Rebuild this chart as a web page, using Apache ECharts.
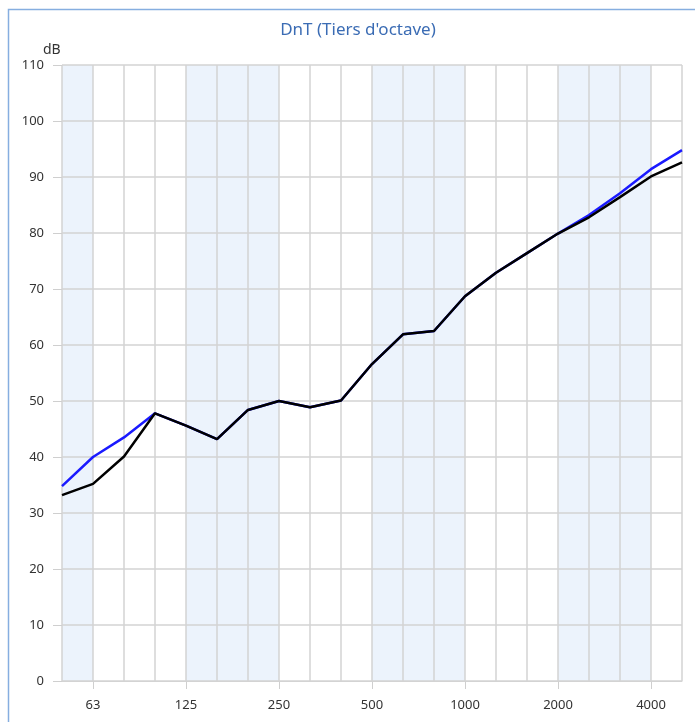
<!DOCTYPE html>
<html>
<head>
<meta charset="utf-8">
<script src="https://cdn.jsdelivr.net/npm/echarts@6/dist/echarts.min.js"></script>
<style>
  html, body { margin: 0; padding: 0; background: #ffffff; }
  #chart { width: 695px; height: 722px; }
</style>
</head>
<body>
<div id="chart"></div>
<script>
// Third-octave band centre frequencies (Hz)
const bands = ['50', '63', '80', '100', '125', '160', '200', '250', '315', '400', '500',
  '630', '800', '1000', '1250', '1600', '2000', '2500', '3150', '4000', '5000'];
// Bands that carry a label and a tick on the frequency axis
const labelledBands = ['63', '125', '250', '500', '1000', '2000', '4000'];
// Octave groups shaded in the background
const shadedOctaves = [['50', '63'], ['125', '250'], ['500', '1000'], ['2000', '4000']];

// DnT values (dB)
const dntBlue = [34.8, 40.0, 43.5, 47.8, 45.6, 43.2, 48.4, 50.0, 48.9, 50.1, 56.6,
  61.9, 62.5, 68.7, 72.9, 76.4, 79.9, 83.2, 87.1, 91.4, 94.8];
const dntBlack = [33.2, 35.2, 40.1, 47.8, 45.6, 43.2, 48.4, 50.0, 48.9, 50.1, 56.6,
  61.9, 62.5, 68.7, 72.9, 76.4, 79.9, 82.8, 86.4, 90.1, 92.6];

const yTicks = { min: 0, max: 110, interval: 10 };

const SHADE = '#ecf3fc';
const PLAIN = '#ffffff';

// One background colour per interval between neighbouring bands
const intervalColors = bands.slice(0, -1).map((_, i) => {
  const inside = shadedOctaves.some(([a, b]) =>
    i >= bands.indexOf(a) && i + 1 <= bands.indexOf(b));
  return inside ? SHADE : PLAIN;
});

const chart = echarts.init(document.getElementById('chart'), null, { renderer: 'canvas' });
const font = 'Noto Sans';
const showLabel = (i) => labelledBands.indexOf(bands[i]) >= 0;

chart.setOption({
  animation: false,
  backgroundColor: '#ffffff',
  textStyle: { fontFamily: font },
  title: {
    text: "DnT (Tiers d'octave)",
    left: 353,
    textAlign: 'center',
    top: 17,
    textStyle: { color: '#3b6cb4', fontSize: 17, fontWeight: 'normal', fontFamily: font }
  },
  graphic: [
    {
      type: 'rect',
      shape: { x: 8.5, y: 9.5, width: 720, height: 730 },
      style: { fill: 'none', stroke: '#86aee0', lineWidth: 1.5 },
      silent: true
    },
    {
      type: 'text',
      left: 43,
      top: 43,
      style: { text: 'dB', fill: '#333333', fontSize: 14, fontFamily: font }
    }
  ],
  grid: { left: 62, right: 13, top: 65, bottom: 41, containLabel: false },
  xAxis: {
    type: 'category',
    data: bands,
    boundaryGap: false,
    z: 0,
    axisLine: { show: true, lineStyle: { color: '#d3d3d3', width: 1 } },
    axisTick: {
      show: true,
      length: 8,
      interval: (i) => showLabel(i),
      lineStyle: { color: '#cfcfcf' }
    },
    axisLabel: {
      interval: (i) => showLabel(i),
      margin: 18,
      color: '#333333',
      fontSize: 13,
      fontFamily: font
    },
    splitLine: { show: true, interval: 0, lineStyle: { color: '#d3d3d3', width: 1.5 } },
    splitArea: { show: true, interval: 0, areaStyle: { color: intervalColors } }
  },
  yAxis: {
    type: 'value',
    min: yTicks.min,
    max: yTicks.max,
    interval: yTicks.interval,
    z: 1,
    axisLine: { show: false },
    axisTick: { show: true, length: 9, lineStyle: { color: '#cfcfcf' } },
    axisLabel: { margin: 18, color: '#333333', fontSize: 13, fontFamily: font },
    splitLine: { show: true, lineStyle: { color: '#d3d3d3', width: 1.5 } }
  },
  series: [
    {
      name: 'DnT',
      type: 'line',
      data: dntBlue,
      symbol: 'none',
      lineStyle: { color: '#1a1aff', width: 2.5 },
      z: 3
    },
    {
      name: 'DnT ref',
      type: 'line',
      data: dntBlack,
      symbol: 'none',
      lineStyle: { color: '#000000', width: 2.5 },
      z: 4
    }
  ]
});
</script>
</body>
</html>
